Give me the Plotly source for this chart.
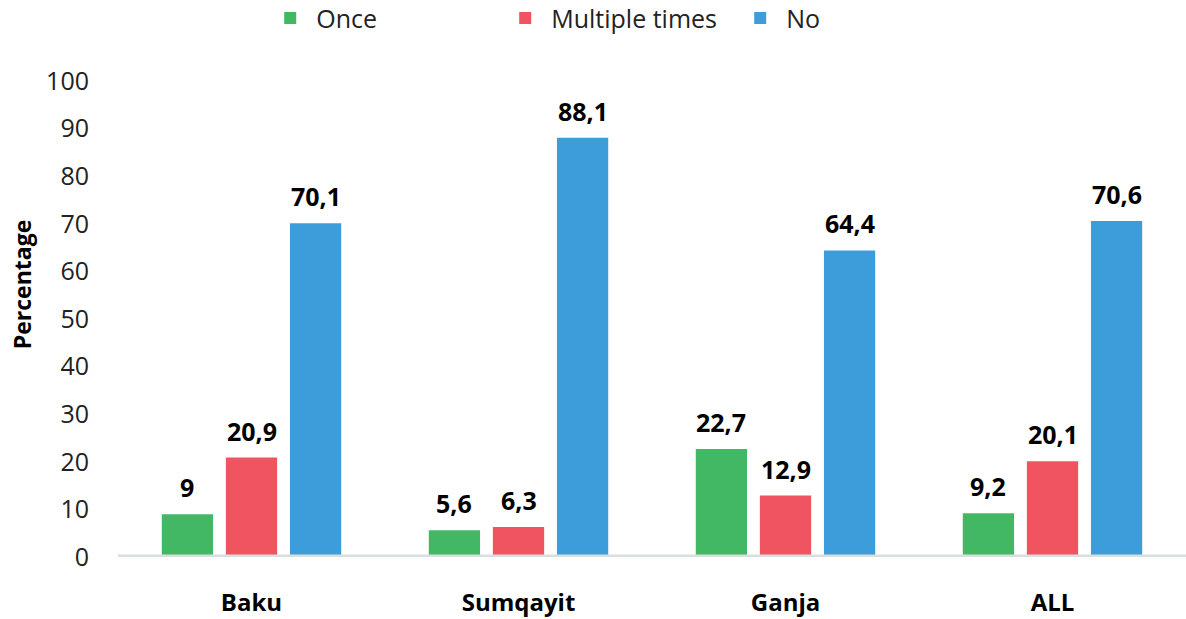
import plotly.graph_objects as go

categories = ["Baku", "Sumqayit", "Ganja", "ALL"]
series_names = ["Once", "Multiple times", "No"]
once = [9.0, 5.6, 22.7, 9.2]
multiple = [20.9, 6.3, 12.9, 20.1]
no = [70.1, 88.1, 64.4, 70.6]
y_ticks = [0, 10, 20, 30, 40, 50, 60, 70, 80, 90, 100]

colors = ["#43B864", "#F05461", "#3D9DDA"]
series = [once, multiple, no]

BARGAP = 0.28
BARGROUPGAP = 0.2

fig = go.Figure()
for name, vals, col in zip(series_names, series, colors):
    fig.add_trace(go.Bar(
        x=categories, y=vals, name=name,
        marker=dict(color=col, line=dict(width=0)),
        hoverinfo="x+y+name",
    ))

def fmt(v):
    s = f"{v:.1f}"
    if s.endswith(".0"):
        s = s[:-2]
    return s.replace(".", ",")

# data labels positioned above each bar using the axis scales
slot = (1 - BARGAP) / len(series)
for si, vals in enumerate(series):
    off = (si - (len(series) - 1) / 2) * slot
    for ci, v in enumerate(vals):
        fig.add_annotation(
            x=ci + off, y=v, xref="x", yref="y",
            text=fmt(v), showarrow=False,
            yanchor="middle", yshift=27,
            font=dict(family="Open Sans", size=25, color="#000000", weight="bold"),
        )

# axis title
fig.add_annotation(
    x=0, y=0.571, xref="paper", yref="paper", xshift=-96,
    text="<b>Percentage</b>", textangle=-90, showarrow=False,
    xanchor="center", yanchor="middle",
    font=dict(family="Open Sans", size=23, color="#000000"),
)

# baseline band (category axis line)
fig.add_shape(type="rect", xref="paper", yref="y", x0=0, x1=1, y0=-0.5, y1=0.5,
              fillcolor="#D9DFDF", line=dict(width=0), layer="above")

fig.update_layout(
    width=1186, height=619,
    margin=dict(l=118, r=0, t=81, b=62, autoexpand=False),
    paper_bgcolor="white", plot_bgcolor="white",
    barmode="group", bargap=BARGAP, bargroupgap=BARGROUPGAP,
    showlegend=True,
    legend=dict(
        orientation="h", x=0.1369, xanchor="left", y=1.132, yref="paper", yanchor="middle",
        font=dict(family="Open Sans", size=25, color="#222222"),
        entrywidth=178, entrywidthmode="pixels", itemwidth=42,
        bgcolor="rgba(0,0,0,0)",
        itemclick=False, itemdoubleclick=False,
    ),
    font=dict(family="Open Sans", color="#222222"),
)
fig.update_xaxes(
    showgrid=False, showline=False, zeroline=False, ticks="",
    tickfont=dict(family="Open Sans", size=24, color="#000000", weight="bold"),
    ticklabelstandoff=29,
)
fig.update_yaxes(
    range=[0, 100], tickvals=y_ticks, showgrid=False, zeroline=False, showline=False,
    ticks="", tickfont=dict(family="Open Sans", size=25, color="#222222"),
    ticklabelstandoff=28,
)

fig.write_html(
    "out.html",
    config={"displayModeBar": False},
    post_script="document.body.style.margin='0';document.body.style.overflow='hidden';",
)
